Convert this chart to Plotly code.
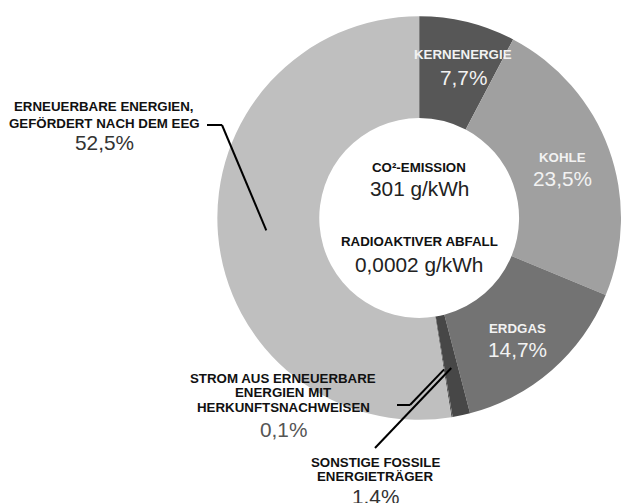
import math
import plotly.graph_objects as go

W, H = 621, 503

# ---- data ----
segments = ["KERNENERGIE", "KOHLE", "ERDGAS",
            "SONSTIGE FOSSILE ENERGIETRÄGER",
            "STROM AUS ERNEUERBARE ENERGIEN MIT HERKUNFTSNACHWEISEN",
            "ERNEUERBARE ENERGIEN, GEFÖRDERT NACH DEM EEG"]
shares = [7.7, 23.5, 14.7, 1.4, 0.1, 52.5]
pct_labels = ["7,7%", "23,5%", "14,7%", "1,4%", "0,1%", "52,5%"]
label_lines = [["KERNENERGIE"], ["KOHLE"], ["ERDGAS"],
               ["SONSTIGE FOSSILE", "ENERGIETRÄGER"],
               ["STROM AUS ERNEUERBARE", "ENERGIEN MIT", "HERKUNFTSNACHWEISEN"],
               ["ERNEUERBARE ENERGIEN,", "GEFÖRDERT NACH DEM EEG"]]
center_titles = ["CO²-EMISSION", "RADIOAKTIVER ABFALL"]
center_values = ["301 g/kWh", "0,0002 g/kWh"]

# ---- style ----
colors = ["#575757", "#a0a0a0", "#737373", "#474747", "#5c5c5c", "#bfbfbf"]
FONT = "Liberation Sans, Arial, sans-serif"
BOLD_SIZE = 13.3
PCT_SIZE = 20.8
dom_x = [0.35, 1.0]
dom_y = [1 - 420 / H, 1 - 16 / H]

fig = go.Figure(go.Pie(
    labels=segments, values=shares, sort=False, direction="clockwise",
    rotation=0, hole=0.495, textinfo="none", hoverinfo="label+percent",
    marker=dict(colors=colors, line=dict(width=0)),
    domain=dict(x=dom_x, y=dom_y), showlegend=False,
))

def px(x):
    return x / W

def py(y):
    return 1 - y / H

# pie geometry (pixels)
cx = (dom_x[0] + dom_x[1]) / 2 * W
cy = H * (1 - (dom_y[0] + dom_y[1]) / 2)
R = min((dom_x[1] - dom_x[0]) * W, (dom_y[1] - dom_y[0]) * H) / 2
total = sum(shares)

def mid_point(i, frac=0.76):
    start = sum(shares[:i]) / total
    mid = (start + shares[i] / total / 2) * 2 * math.pi
    return cx + frac * R * math.sin(mid), cy - frac * R * math.cos(mid)

annotations = []

def add_text(x, y, text, size, bold, color):
    annotations.append(dict(
        x=px(x), y=py(y), xref="paper", yref="paper", text=(f"<b>{text}</b>" if bold else text),
        showarrow=False, xanchor="center", yanchor="middle",
        font=dict(family=FONT, size=size, color=color)))

# label placement (pixel centres): (x, [line ys], pct y, colour label, colour pct)
placements = [
    (463, [55], 77, "#f2f2f2", "#f2f2f2"),
    (562, [157], 178, "#f2f2f2", "#f2f2f2"),
    (517, [328], 349, "#f2f2f2", "#f2f2f2"),
    (375, [462, 476], 496, "#111111", "#333333"),
    (283, [378, 392, 407], 429, "#111111", "#555555"),
    (104, [107, 123], 143, "#111111", "#333333"),
]
for i, (x, ys, ypct, c1, c2) in enumerate(placements):
    for line, y in zip(label_lines[i], ys):
        add_text(x, y, line, BOLD_SIZE, True, c1)
    add_text(x, ypct, pct_labels[i], PCT_SIZE, False, c2)

# centre texts
add_text(cx, 167, center_titles[0], BOLD_SIZE, True, "#111111")
add_text(cx, 188, center_values[0], PCT_SIZE, False, "#222222")
add_text(cx, 242, center_titles[1], BOLD_SIZE, True, "#111111")
add_text(cx, 264, center_values[1], PCT_SIZE, False, "#222222")

# leader lines
shapes = []

def seg(p, q):
    shapes.append(dict(type="line", xref="paper", yref="paper",
                       x0=px(p[0]), y0=py(p[1]), x1=px(q[0]), y1=py(q[1]),
                       line=dict(color="#000000", width=2)))

e = mid_point(5)
seg((207, 125), (222, 125)); seg((222, 125), e)
s = mid_point(4)
seg((397, 405), (410, 405)); seg((410, 405), s)
f = mid_point(3)
seg((375, 448), f)

fig.update_layout(
    width=W, height=H, margin=dict(l=0, r=0, t=0, b=0),
    paper_bgcolor="white", plot_bgcolor="white",
    annotations=annotations, shapes=shapes,
)
fig.write_html("out.html", config={"displayModeBar": False},
               post_script="document.body.style.margin='0';document.body.style.overflow='hidden';")
